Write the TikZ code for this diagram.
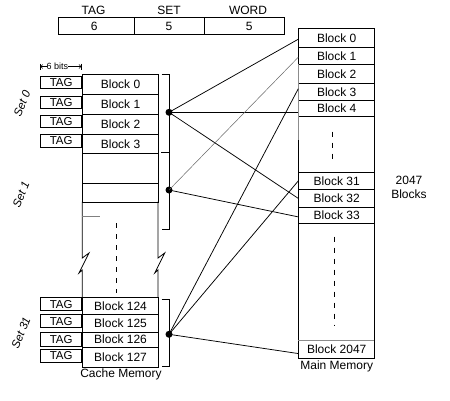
\documentclass[tikz,border=0pt]{standalone}
\usepackage{fontspec}
\setmainfont{Liberation Sans}
\usetikzlibrary{arrows.meta}
\begin{document}
\begin{tikzpicture}[x=1pt,y=-1pt,
  every node/.style={font=\fontsize{12}{14}\selectfont, inner sep=0pt},
  box/.style={draw, line width=0.8pt, anchor=north west},
  cblk/.style={box, minimum width=75.7pt},
  mblk/.style={box, minimum width=76pt},
  tagbox/.style={box, minimum width=41pt, font=\fontsize{11.5}{13}\selectfont},
  conn/.style={line width=0.75pt},
  thinconn/.style={line width=0.5pt, black!60},
  dot/.style={circle, fill, minimum size=7pt},
  dashv/.style={line width=0.8pt, dash pattern=on 5pt off 6pt},
  setlab/.style={rotate=68, font=\fontsize{11.5}{13}\selectfont\itshape}]
\useasboundingbox (0,0) rectangle (450,400);

% address register
\node[box, minimum width=75.7pt, minimum height=17pt] (r1) at (58,17.3) {};
\node[box, minimum width=70pt, minimum height=17pt] (r2) at (133.7,17.3) {};
\node[box, minimum width=80pt, minimum height=17pt] (r3) at (203.7,17.3) {};
\node (h1) at (93.5,10) {TAG};
\node (h2) at (169,10) {SET};
\node (h3) at (248,10) {WORD};
\node (v1) at (94.3,26) {6};
\node (v2) at (169,26) {5};
\node (v3) at (249.3,26) {5};

% 6 bits
\node[font=\fontsize{9}{10}\selectfont] (bits) at (57.5,66.5) {6 bits};
\coordinate (bl) at (40.3,66.5);
\coordinate (br) at (81.3,66.5);
\draw[line width=0.5pt, -{Straight Barb[length=2pt]}] (bits.west) -- (bl);
\draw[line width=0.5pt, -{Straight Barb[length=2pt]}] (bits.east) -- (br);
\draw[line width=0.5pt] (40.3,63.5) -- (40.3,69.5);
\draw[line width=0.5pt] (81.3,63.5) -- (81.3,69.5);

% cache blocks
\node[cblk, minimum height=20pt] (c0) at (82.3,74.3) {Block 0};
\node[cblk, minimum height=19.7pt] (c1) at (82.3,94.3) {Block 1};
\node[cblk, minimum height=19.7pt] (c2) at (82.3,114) {Block 2};
\node[cblk, minimum height=19.6pt] (c3) at (82.3,133.7) {Block 3};
\node[cblk, minimum height=30pt] (s1a) at (82.3,153.3) {};
\node[cblk, minimum height=18.4pt] (s1b) at (82.3,183.3) {};
\node[cblk, minimum height=17pt] (c124) at (82.3,297.3) {Block 124};
\node[cblk, minimum height=17.4pt] (c125) at (82.3,314.3) {Block 125};
\node[cblk, minimum height=15pt] (c126) at (82.3,331.7) {Block 126};
\node[cblk, minimum height=20pt] (c127) at (82.3,346.7) {Block 127};

% cache outline with breaks
\draw[line width=0.8pt] (82.3,201.7) -- (82.3,258) -- (89,253) -- (79,273) -- (82.3,270) -- (82.3,297.3);
\draw[line width=0.8pt] (158,201.7) -- (158,258) -- (164.7,253) -- (154.7,273) -- (158,270) -- (158,297.3);
\draw[line width=0.8pt, black!50] (82.3,216.7) -- (100,216.7);
\draw[dashv] (116.3,223) -- (116.3,293);

% tag boxes
\node[tagbox, minimum height=12.3pt] (t0) at (40.3,76) {TAG};
\node[tagbox, minimum height=11.7pt] (t1) at (40.3,96) {TAG};
\node[tagbox, minimum height=11.7pt] (t2) at (40.3,115) {TAG};
\node[tagbox, minimum height=12.7pt] (t3) at (40.3,134) {TAG};
\node[tagbox, minimum height=12.7pt] (t124) at (40.3,297.3) {TAG};
\node[tagbox, minimum height=13pt] (t125) at (40.3,314.3) {TAG};
\node[tagbox, minimum height=13.4pt] (t126) at (40.3,332.3) {TAG};
\node[tagbox, minimum height=12.7pt] (t127) at (40.3,349) {TAG};

% set labels
\node[setlab] (set0) at (22,104) {Set 0};
\node[setlab] (set1) at (21,195) {Set 1};
\node[setlab] (set31) at (21,333) {Set 31};

% brackets
\draw[line width=0.8pt] (161.7,74.3) -- (169,74.3) -- (169,229.3) -- (161.7,229.3);
\draw[line width=1.4pt] (161,152.7) -- (169,152.7);
\draw[line width=0.8pt] (161.7,299) -- (169,299) -- (169,366) -- (161.7,366);
\node[dot] (d0) at (169,112.3) {};
\node[dot] (d1) at (169,190) {};
\node[dot] (d31) at (169,334.3) {};

% main memory
\node[mblk, minimum height=19pt] (m0) at (298.3,28.3) {Block 0};
\node[mblk, minimum height=17pt] (m1) at (298.3,47.3) {Block 1};
\node[mblk, minimum height=19pt] (m2) at (298.3,64.3) {Block 2};
\node[mblk, minimum height=17pt] (m3) at (298.3,83.3) {Block 3};
\node[mblk, minimum height=16pt] (m4) at (298.3,100.3) {Block 4};
\node[mblk, minimum height=55.4pt] (mg1) at (298.3,116.3) {};
\node[mblk, minimum height=17.6pt] (m31) at (298.3,171.7) {Block 31};
\node[mblk, minimum height=17.4pt] (m32) at (298.3,189.3) {Block 32};
\node[mblk, minimum height=16.6pt] (m33) at (298.3,206.7) {Block 33};
\node[mblk, minimum height=116.7pt] (mg2) at (298.3,223.3) {};
\node[mblk, minimum height=18.3pt] (m2047) at (298.3,340) {Block 2047};
\draw[line width=1.2pt, black!45] (298.3,64.3) -- (298.3,140);
\draw[line width=0.9pt, black!45] (298.3,340) -- (374.3,340);
\draw[dashv] (332.3,131.7) -- (332.3,161);
\draw[dashv] (334.3,236.7) -- (334.3,326);

% labels
\node (cm) at (121,374) {Cache Memory};
\node (mm) at (336.7,366) {Main Memory};
\node (n2047) at (409,180) {2047};
\node (nblk) at (409,194.5) {Blocks};

% connectors
\draw[conn] (d0.center) -- ([yshift=-1pt]m0.west);
\draw[conn] (d0.center) -- (d0 -| m4.west);
\draw[conn] (d0.center) -- (m32.west);
\draw[thinconn] (d1.center) -- ([yshift=-1pt]m1.west);
\draw[conn] (d1.center) -- ([yshift=-1.5pt]m33.west);
\draw[conn] (d31.center) -- ([yshift=3.5pt]m3.west);
\draw[conn] (d31.center) -- (m31.west);
\draw[conn] (d31.center) -- ([yshift=-4pt]m2047.west);
\end{tikzpicture}
\end{document}
